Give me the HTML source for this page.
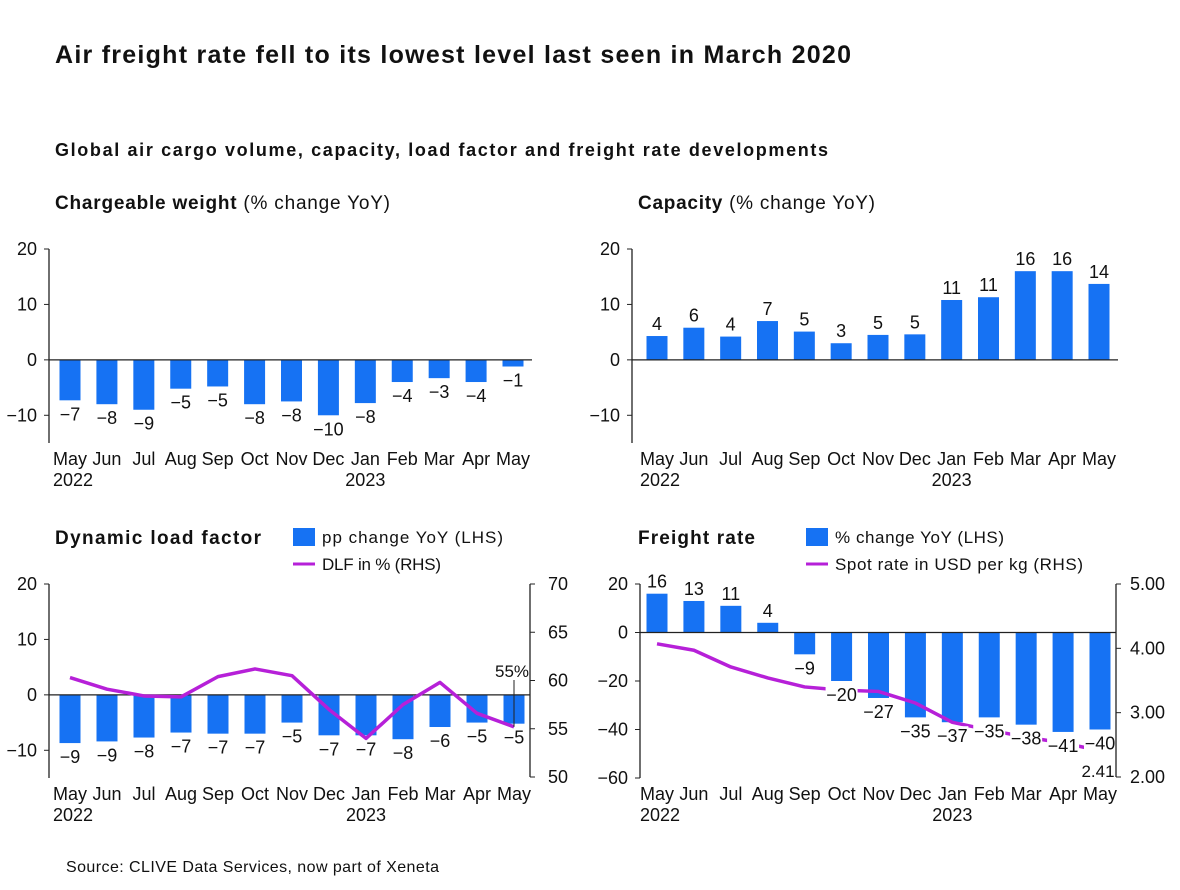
<!DOCTYPE html>
<html><head><meta charset="utf-8"><style>
body{margin:0;background:#fff;font-family:"Liberation Sans",sans-serif;}
svg text{font-family:"Liberation Sans",sans-serif;fill:#111;}
</style></head><body>
<svg id="s" width="1180" height="885" xmlns="http://www.w3.org/2000/svg">
<text x="55" y="63" font-size="25" font-weight="bold" textLength="796" lengthAdjust="spacing">Air freight rate fell to its lowest level last seen in March 2020</text>
<text x="55" y="156" font-size="18" font-weight="bold" textLength="773" lengthAdjust="spacing">Global air cargo volume, capacity, load factor and freight rate developments</text>
<text x="55" y="209" font-size="19" textLength="335" lengthAdjust="spacing"><tspan font-weight="bold">Chargeable weight</tspan> (% change YoY)</text>
<text x="638" y="209" font-size="19" textLength="237" lengthAdjust="spacing"><tspan font-weight="bold">Capacity</tspan> (% change YoY)</text>
<text x="55" y="544" font-size="19" font-weight="bold" textLength="206" lengthAdjust="spacing">Dynamic load factor</text>
<text x="638" y="544" font-size="19" font-weight="bold" textLength="117" lengthAdjust="spacing">Freight rate</text>
<rect x="293" y="528" width="22" height="18" fill="#1672F3"/>
<text x="322" y="543" font-size="17" textLength="181" lengthAdjust="spacing">pp change YoY (LHS)</text>
<line x1="293" y1="564" x2="315" y2="564" stroke="#B620D8" stroke-width="3"/>
<text x="322" y="570" font-size="17" textLength="119" lengthAdjust="spacing">DLF in % (RHS)</text>
<rect x="806" y="528" width="22" height="18" fill="#1672F3"/>
<text x="835" y="543" font-size="17" textLength="169" lengthAdjust="spacing">% change YoY (LHS)</text>
<line x1="806" y1="564" x2="828" y2="564" stroke="#B620D8" stroke-width="3"/>
<text x="835" y="570" font-size="17" textLength="248" lengthAdjust="spacing">Spot rate in USD per kg (RHS)</text>
<text x="66" y="872" font-size="16" textLength="373" lengthAdjust="spacing">Source: CLIVE Data Services, now part of Xeneta</text>
</svg>
<script>
const months=["May","Jun","Jul","Aug","Sep","Oct","Nov","Dec","Jan","Feb","Mar","Apr","May"];
const cwValues=[-7.3,-8,-9,-5.2,-4.8,-8,-7.5,-10,-7.8,-4,-3.3,-4,-1.2];
const cwLabels=["-7","-8","-9","-5","-5","-8","-8","-10","-8","-4","-3","-4","-1"];
const capValues=[4.3,5.8,4.2,7,5.1,3,4.5,4.6,10.8,11.3,16,16,13.7];
const capLabels=["4","6","4","7","5","3","5","5","11","11","16","16","14"];
const dlfBars=[-8.7,-8.4,-7.7,-6.8,-7,-7,-5,-7.3,-7.3,-8,-5.8,-5,-5.2];
const dlfBarLabels=["-9","-9","-8","-7","-7","-7","-5","-7","-7","-8","-6","-5","-5"];
const dlfLine=[60.3,59.1,58.4,58.3,60.4,61.2,60.5,57.0,54.0,57.5,59.8,56.6,55.2];
const frBars=[16,13,11,4,-9,-20,-27,-35,-37,-35,-38,-41,-40];
const frLabels=["16","13","11","4","-9","-20","-27","-35","-37","-35","-38","-41","-40"];
const spotRate=[4.07,3.97,3.71,3.54,3.40,3.35,3.33,3.15,2.85,2.73,2.62,2.53,2.41];
const t1=[20,10,0,-10], t3=[20,10,0,-10], t3r=[70,65,60,55,50], t4=[20,0,-20,-40,-60], t4r=["5.00","4.00","3.00","2.00"];
const S=document.getElementById('s');const NS="http://www.w3.org/2000/svg";
function el(t,a,txt){const e=document.createElementNS(NS,t);for(const k in a)e.setAttribute(k,a[k]);if(txt!==undefined)e.textContent=txt;S.appendChild(e);return e;}
function panel(o){
 const y=v=>o.y0+(o.vmax-v)*(o.y1-o.y0)/(o.vmax-o.vmin);
 const x=i=>o.xs+i*(o.xe-o.xs)/12;
 let a=el('line',{x1:o.ax,y1:o.y0,x2:o.ax,y2:o.y1,stroke:'#222','stroke-width':1.3});
 
 o.ticks.forEach(t=>{const l=el('line',{x1:o.ax-5,y1:y(t),x2:o.ax,y2:y(t),stroke:'#222'});
  
  const tx=el('text',{x:o.ax-12,y:y(t)+6,'font-size':18,'text-anchor':'end'},String(t).replace('-','−'));
  });
 o.vals.forEach((v,i)=>{const b=el('rect',{x:x(i)-10.5,y:Math.min(y(v),y(0)),width:21,height:Math.abs(y(v)-y(0)),fill:'#1672F3'});
  });
 const z=el('line',{x1:o.ax,y1:y(0),x2:o.axe,y2:y(0),stroke:'#222','stroke-width':1.3});
 
 months.forEach((m,i)=>{const t=el('text',{x:x(i),y:o.ly,'font-size':18,'text-anchor':'middle'},m);
  });
 let yr=el('text',{x:x(0)-17,y:o.ly+21,'font-size':18},'2022');
 yr=el('text',{x:x(8),y:o.ly+21,'font-size':18,'text-anchor':'middle'},'2023');
 return {x,y};
}
function valLabels(n,p,vals,labs,bg){vals.forEach((v,i)=>{const yy=v>=0?p.y(v)-6:p.y(v)+20;
 const s=labs[i].replace('-','−');
 if(bg){const w=s.length*10+2;const r=el('rect',{x:p.x(i)-w/2,y:yy-16,width:w,height:20,fill:'#fff'});}
 const t=el('text',{x:p.x(i),y:yy,'font-size':18,'text-anchor':'middle'},s);
 });}
let p1=panel({n:'cw',ax:49,axe:532,y0:249,y1:443,vmax:20,vmin:-15,xs:70,xe:513,ticks:t1,vals:cwValues,ly:465});
valLabels('cw',p1,cwValues,cwLabels);
let p2=panel({n:'cap',ax:632,axe:1118,y0:249,y1:443,vmax:20,vmin:-15,xs:657,xe:1099,ticks:t1,vals:capValues,ly:465});
valLabels('cap',p2,capValues,capLabels);
let p3=panel({n:'dlf',ax:49,axe:530,y0:584,y1:778,vmax:20,vmin:-15,xs:70,xe:514,ticks:t3,vals:dlfBars,ly:800});
valLabels('dlf',p3,dlfBars,dlfBarLabels);
const yr3=v=>584+(70-v)*(777-584)/20;
let ra=el('line',{x1:530,y1:584,x2:530,y2:777,stroke:'#222','stroke-width':1.3});
t3r.forEach(t=>{const l=el('line',{x1:530,y1:yr3(t),x2:535,y2:yr3(t),stroke:'#222'});
 const tx=el('text',{x:548,y:yr3(t)+6,'font-size':18},t);});
let pl=el('polyline',{points:dlfLine.map((v,i)=>p3.x(i)+','+yr3(v)).join(' '),fill:'none',stroke:'#B620D8','stroke-width':3.5,'stroke-linejoin':'round'});

let ll=el('line',{x1:p3.x(12),y1:yr3(dlfLine[12]),x2:p3.x(12),y2:680,stroke:'#222','stroke-width':1});
let cl=el('text',{x:p3.x(12)-2,y:677,'font-size':17,'text-anchor':'middle'},'55%');
let p4=panel({n:'fr',ax:640,axe:1116,y0:584,y1:778,vmax:20,vmin:-60,xs:657,xe:1100,ticks:t4,vals:frBars,ly:800});
const yr4=v=>584+(5-v)*(777-584)/3;
let sl=el('polyline',{points:spotRate.map((v,i)=>p4.x(i)+','+yr4(v)).join(' '),fill:'none',stroke:'#B620D8','stroke-width':3.5,'stroke-linejoin':'round'});

valLabels('fr',p4,frBars,frLabels,true);
let ra4=el('line',{x1:1116,y1:584,x2:1116,y2:777,stroke:'#222','stroke-width':1.3});
t4r.forEach(t=>{const v=parseFloat(t);const l=el('line',{x1:1116,y1:yr4(v),x2:1121,y2:yr4(v),stroke:'#222'});
 const tx=el('text',{x:1130,y:yr4(v)+6,'font-size':18},t);});
let c4=el('text',{x:p4.x(12)-2,y:777,'font-size':17,'text-anchor':'middle'},spotRate[12].toFixed(2));
</script>
</body></html>
